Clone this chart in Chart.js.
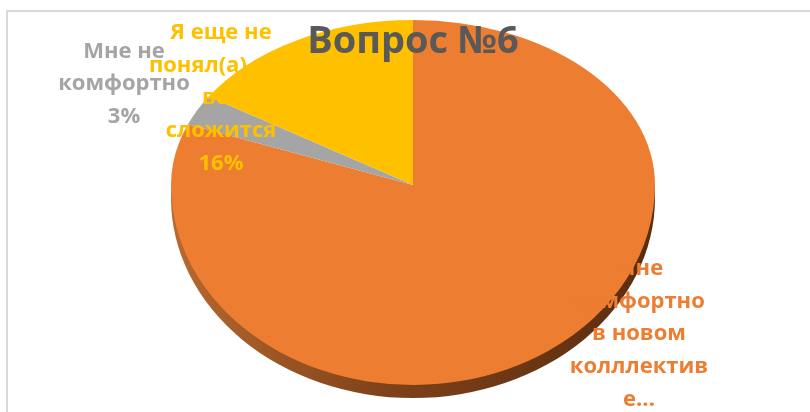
<!DOCTYPE html>
<html>
<head>
<meta charset="utf-8">
<script src="https://cdn.jsdelivr.net/npm/chart.js@4.4.1/dist/chart.umd.min.js"></script>
<style>
  html, body { margin: 0; padding: 0; background: #fff; }
  #wrap { width: 810px; height: 412px; position: relative; }
</style>
</head>
<body>
<div id="wrap"><canvas id="pie" width="810" height="412"></canvas></div>
<script>
// --- Data ---
const chartTitle = 'Вопрос №6';
const categories = ['Мне комфортно в новом колллективе', 'Мне не комфортно', 'Я еще не понял(а) как все сложится'];
const values = [81, 3, 16];
const colors = ['#ED7D31', '#A5A5A5', '#FFC000'];
// wrapped label text as Excel shows it (orange one is truncated, no percent)
const labelLines = [
  ['Мне', 'комфортно', 'в новом', 'колллектив', 'е...'],
  ['Мне не', 'комфортно'],
  ['Я еще не', 'понял(а) как', 'все', 'сложится']
];
const showPercent = [false, true, true];

// --- Layout ---
// fake perspective: upper half of the pie is squashed more than the lower half
const stretchX = 242 / 165;
const stretchTop = 1;
const stretchBottom = 200 / 165;
const rimDepth = 13;          // thickness of the 3d edge, px on screen
const lineHeight = 32.7;
const labelOffsets = [[226, 149], [-289, -101], [-192, -87]]; // label centres relative to pie centre
const labelFont = 'bold 22px "Open Sans", sans-serif';
const titleFont = 'bold 38px "Open Sans", sans-serif';

const total = values.reduce((a, b) => a + b, 0);

function stretch(ctx, x, y, sy) {
  ctx.translate(x, y);
  ctx.scale(stretchX, sy);
  ctx.translate(-x, -y);
}

const pie3d = {
  id: 'pie3d',
  beforeDraw(chart) {
    // light frame round the chart area (top and left edges visible)
    const ctx = chart.ctx;
    ctx.save();
    ctx.strokeStyle = '#D9D9D9';
    ctx.lineWidth = 2;
    ctx.beginPath();
    ctx.moveTo(7, chart.height);
    ctx.lineTo(7, 11);
    ctx.lineTo(chart.width, 11);
    ctx.stroke();
    ctx.restore();
  },
  beforeDatasetsDraw(chart) {
    // the library's own pass draws the upper half
    const ctx = chart.ctx;
    const { x, y } = chart.getDatasetMeta(0).data[0];
    ctx.save();
    ctx.beginPath();
    ctx.rect(0, 0, chart.width, y);
    ctx.clip();
    stretch(ctx, x, y, stretchTop);
  },
  afterDatasetsDraw(chart) {
    const ctx = chart.ctx;
    ctx.restore();
    const meta = chart.getDatasetMeta(0);
    const arcs = meta.data;
    const { x, y, outerRadius } = arcs[0];

    // lower half: rim first, then the slices again with a taller scale
    ctx.save();
    ctx.beginPath();
    ctx.rect(0, y, chart.width, chart.height - y);
    ctx.clip();
    stretch(ctx, x, y, stretchBottom);
    const g = ctx.createLinearGradient(x - outerRadius, 0, x + outerRadius, 0);
    g.addColorStop(0, '#B8692F');
    g.addColorStop(0.45, '#7E4119');
    g.addColorStop(1, '#5A2D10');
    ctx.fillStyle = g;
    ctx.beginPath();
    ctx.arc(x, y + rimDepth / stretchBottom, outerRadius, 0, Math.PI * 2);
    ctx.fill();
    meta.controller.draw();
    ctx.restore();

    // data labels in the slice colour, so they vanish where they cross their own slice
    ctx.save();
    ctx.font = labelFont;
    ctx.textAlign = 'center';
    ctx.textBaseline = 'middle';
    arcs.forEach((arc, i) => {
      const lines = labelLines[i].slice();
      if (showPercent[i]) lines.push(Math.round(values[i] / total * 100) + '%');
      const cx = x + labelOffsets[i][0];
      const cy = y + labelOffsets[i][1];
      ctx.fillStyle = colors[i];
      lines.forEach((t, k) => {
        ctx.fillText(t, cx, cy + (k - (lines.length - 1) / 2) * lineHeight);
      });
    });
    ctx.restore();

    ctx.save();
    ctx.font = titleFont;
    ctx.fillStyle = '#595959';
    ctx.textAlign = 'center';
    ctx.textBaseline = 'middle';
    ctx.fillText(chartTitle, x, 42);
    ctx.restore();
  }
};

new Chart(document.getElementById('pie'), {
  type: 'pie',
  data: {
    labels: categories,
    datasets: [{
      data: values,
      backgroundColor: colors,
      borderWidth: 0,
      clip: false
    }]
  },
  options: {
    responsive: false,
    animation: false,
    events: [],
    layout: { padding: { top: 20, bottom: 62, left: 16, right: 0 } },
    plugins: {
      legend: { display: false },
      tooltip: { enabled: false },
      title: { display: false }
    }
  },
  plugins: [pie3d]
});
</script>
</body>
</html>
